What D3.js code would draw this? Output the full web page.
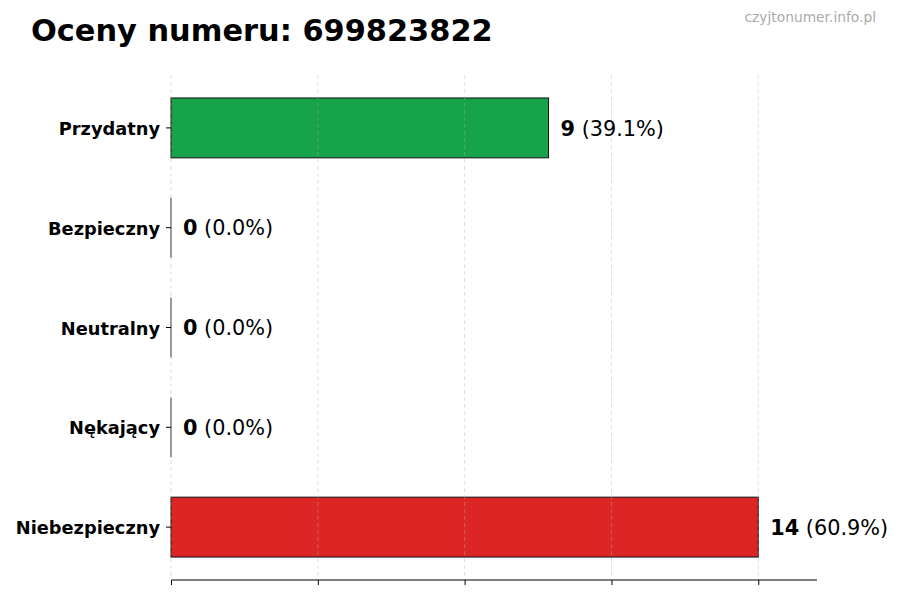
<!DOCTYPE html>
<html>
<head>
<meta charset="utf-8">
<script src="https://cdn.jsdelivr.net/npm/d3@7"></script>
<style>
  body { margin: 0; background: #fff; }
  svg { font-family: "DejaVu Sans", sans-serif; }
</style>
</head>
<body>
<svg width="900" height="600"></svg>
<script>
// data
const categories = ["Przydatny", "Bezpieczny", "Neutralny", "Nękający", "Niebezpieczny"];
const counts = [9, 0, 0, 0, 14];
const percents = ["39.1%", "0.0%", "0.0%", "0.0%", "60.9%"];
const colors = ["#16a34a", "#9ca3af", "#9ca3af", "#f97316", "#dc2626"];
const xTicks = [0, 3.5, 7, 10.5, 14];

const svg = d3.select("svg");
const margin = { top: 75, right: 83, bottom: 20, left: 171 };
const width = +svg.attr("width");
const height = +svg.attr("height");
const innerWidth = width - margin.left - margin.right;
const innerHeight = height - margin.top - margin.bottom;

const g = svg.append("g").attr("transform", `translate(${margin.left},${margin.top})`);

const xScale = d3.scaleLinear()
    .domain([0, d3.max(counts) * 1.1])
    .range([0, innerWidth]);

const yScale = d3.scaleBand()
    .domain(categories)
    .range([0, innerHeight])
    .paddingInner(0.4)
    .paddingOuter(0.23);

// bars
g.selectAll("rect.bar").data(categories)
  .enter().append("rect")
    .attr("class", "bar")
    .attr("x", 0)
    .attr("y", d => yScale(d))
    .attr("width", (d, i) => xScale(counts[i]))
    .attr("height", yScale.bandwidth())
    .attr("fill", (d, i) => colors[i])
    .attr("stroke", "#111")
    .attr("stroke-width", 1);

// zero-width bars still show their edge
g.selectAll("line.edge").data(categories.filter((d, i) => counts[i] === 0))
  .enter().append("line")
    .attr("class", "edge")
    .attr("x1", xScale(0)).attr("x2", xScale(0))
    .attr("y1", d => yScale(d))
    .attr("y2", d => yScale(d) + yScale.bandwidth())
    .attr("stroke", "#333")
    .attr("stroke-width", 1);

// grid on top of bars
g.selectAll("line.grid").data(xTicks)
  .enter().append("line")
    .attr("class", "grid")
    .attr("x1", d => xScale(d)).attr("x2", d => xScale(d))
    .attr("y1", 0).attr("y2", innerHeight)
    .attr("stroke", "#b0b0b0")
    .attr("stroke-opacity", 0.5)
    .attr("stroke-dasharray", "4,3")
    .attr("stroke-width", 0.8);

// axes (x ticks only, no labels)
const xAxis = d3.axisBottom(xScale).tickValues(xTicks).tickSize(5);
g.append("g")
    .attr("transform", `translate(0,${innerHeight})`)
    .call(xAxis)
    .call(a => a.selectAll(".tick text").remove())
    .call(a => a.selectAll("line,path").attr("stroke", "#000"))
    .call(a => a.select(".domain").attr("d", `M0.5,0H${innerWidth}`));

const yAxis = d3.axisLeft(yScale).tickSize(5).tickPadding(6);
g.append("g")
    .call(yAxis)
    .call(a => a.select(".domain").remove())
    .call(a => a.selectAll("text")
        .attr("dy", "0.4em")
        .attr("font-size", 17.8)
        .attr("font-weight", "bold")
        .attr("font-family", "DejaVu Sans")
        .attr("fill", "#000"));

// value labels
const labels = g.selectAll("text.val").data(categories)
  .enter().append("text")
    .attr("class", "val")
    .attr("x", (d, i) => xScale(counts[i]) + 12)
    .attr("y", d => yScale(d) + yScale.bandwidth() / 2)
    .attr("dy", "0.37em")
    .attr("font-size", 20.8)
    .attr("fill", "#000");
labels.append("tspan").attr("font-weight", "bold").text((d, i) => counts[i]);
labels.append("tspan").text((d, i) => " (" + percents[i] + ")");

// title + watermark
svg.append("text")
    .attr("x", 31).attr("y", 41)
    .attr("font-size", 30.4)
    .attr("font-weight", "bold")
    .attr("fill", "#000")
    .text("Oceny numeru: 699823822");

svg.append("text")
    .attr("x", 876).attr("y", 22)
    .attr("text-anchor", "end")
    .attr("font-size", 13.8)
    .attr("fill", "#aaaaaa")
    .text("czyjtonumer.info.pl");
</script>
</body>
</html>
